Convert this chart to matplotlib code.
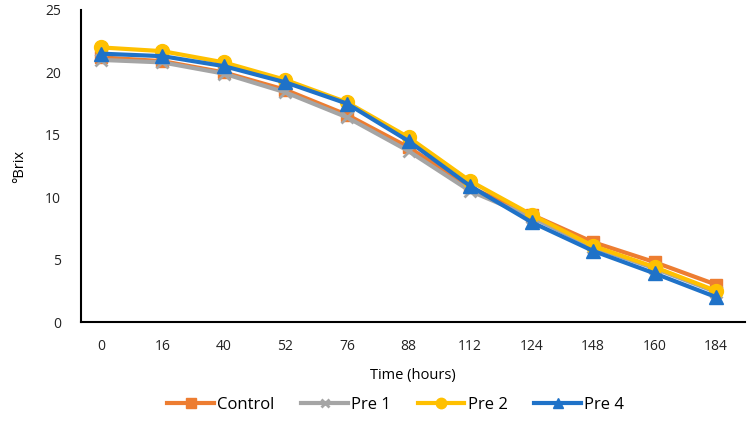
import matplotlib
matplotlib.use("Agg")
import matplotlib.pyplot as plt
import numpy as np

hours = ["0", "16", "40", "52", "76", "88", "112", "124", "148", "160", "184"]
control = [21.2, 20.9, 20.0, 18.6, 16.6, 14.0, 10.8, 8.6, 6.4, 4.8, 3.0]
pre1 = [21.0, 20.8, 19.9, 18.4, 16.4, 13.7, 10.5, 8.4, 6.0, 4.3, 2.4]
pre2 = [22.0, 21.7, 20.8, 19.4, 17.6, 14.8, 11.3, 8.6, 6.1, 4.4, 2.5]
pre4 = [21.5, 21.3, 20.5, 19.2, 17.5, 14.5, 10.9, 8.0, 5.7, 3.9, 2.0]

plt.rcParams['font.family'] = ['Open Sans', 'DejaVu Sans']

fig = plt.figure(figsize=(7.54, 4.34), dpi=100)
ax = fig.add_axes([0.107, 0.258, 0.881, 0.719])
x = np.arange(len(hours))

ax.plot(x, control, color="#ED7D31", lw=3, marker="s", ms=9, label="Control", zorder=2)
ax.plot(x, pre1, color="#A5A5A5", lw=3, marker="x", ms=8, mew=2, label="Pre 1", zorder=3)
ax.plot(x, pre2, color="#FFC000", lw=3, marker="o", ms=10, label="Pre 2", zorder=4)
ax.plot(x, pre4, color="#1F72C8", lw=3, marker="^", ms=10, label="Pre 4", zorder=5)

ax.set_xlim(-0.33, 10.47)
ax.set_ylim(0, 25)
ax.set_yticks([0, 5, 10, 15, 20, 25])
ax.set_xticks(x)
ax.set_xticklabels(hours)
ax.tick_params(axis="both", length=0, labelsize=10, colors="#222222")
ax.tick_params(axis="x", pad=12)
ax.tick_params(axis="y", pad=14)
for s in ["top", "right"]:
    ax.spines[s].set_visible(False)
for s in ["left", "bottom"]:
    ax.spines[s].set_color("black")
    ax.spines[s].set_linewidth(1.5)

ax.set_xlabel("Time (hours)", fontsize=10.5, labelpad=10)
ax.set_ylabel("°Brix", fontsize=10.5, labelpad=13)

fig.legend(loc="center", bbox_to_anchor=(0.525, 0.067), ncol=4, frameon=False,
           fontsize=12, handlelength=2.8, columnspacing=1.6, handletextpad=0.2,
           markerscale=0.75)

fig.savefig("out.png", dpi=100)
